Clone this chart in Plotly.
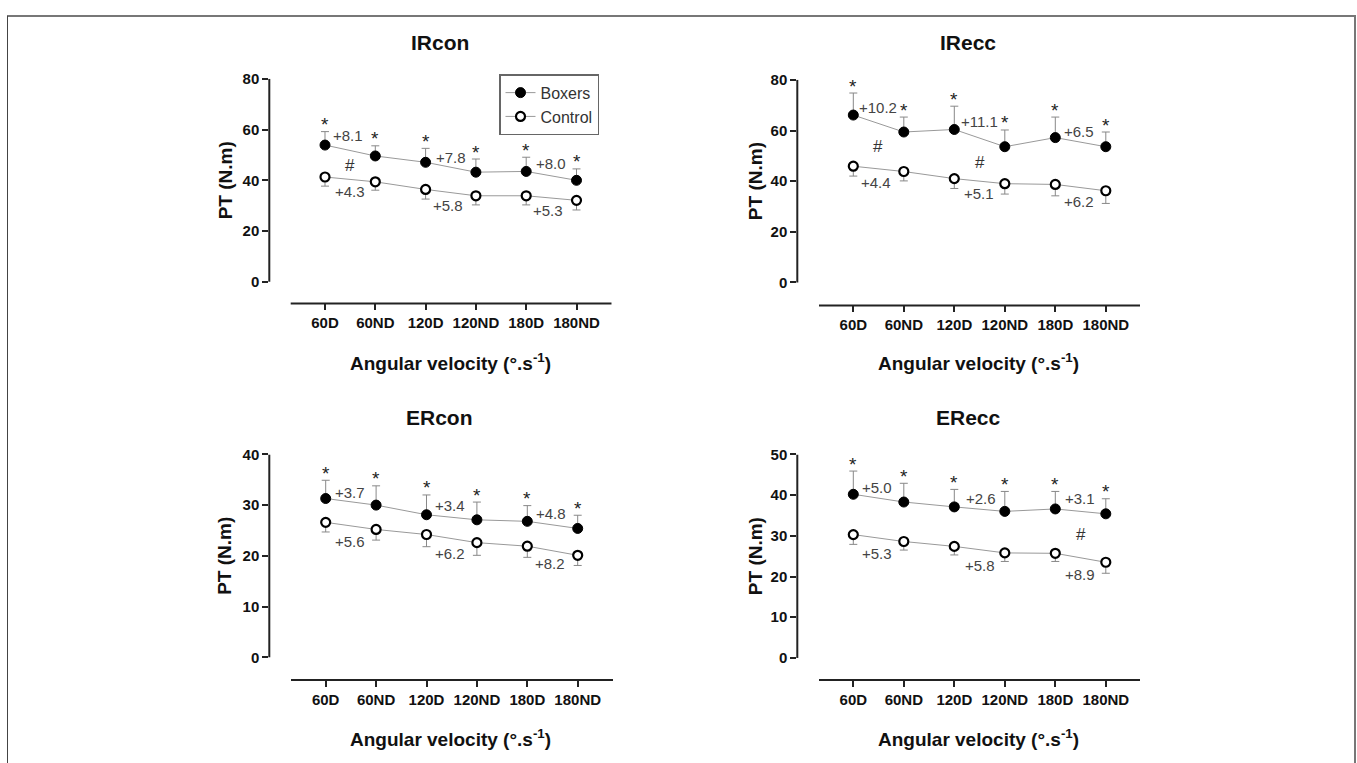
import plotly.graph_objects as go

W, H = 1357, 763

categories = ["60D", "60ND", "120D", "120ND", "180D", "180ND"]

# ---- data (PT, N.m) ----
ircon_boxers = [53.9, 49.6, 47.1, 43.2, 43.5, 40.0]
ircon_boxers_sd = [5.3, 4.0, 5.5, 5.2, 5.6, 4.5]
ircon_control = [41.3, 39.4, 36.4, 33.9, 33.9, 32.1]
ircon_control_sd = [3.6, 3.3, 3.8, 3.6, 3.6, 3.8]

irecc_boxers = [66.1, 59.4, 60.4, 53.6, 57.2, 53.6]
irecc_boxers_sd = [8.7, 5.9, 9.2, 6.6, 8.1, 5.8]
irecc_control = [45.9, 43.8, 41.0, 39.0, 38.7, 36.2]
irecc_control_sd = [3.9, 3.7, 3.9, 4.1, 4.5, 5.0]

ercon_boxers = [31.3, 30.0, 28.1, 27.1, 26.8, 25.4]
ercon_boxers_sd = [3.6, 3.8, 3.9, 3.5, 3.1, 2.6]
ercon_control = [26.6, 25.2, 24.2, 22.6, 21.9, 20.1]
ercon_control_sd = [1.9, 2.1, 2.4, 2.5, 2.2, 2.0]

erecc_boxers = [40.2, 38.3, 37.1, 36.0, 36.6, 35.4]
erecc_boxers_sd = [5.7, 4.6, 4.3, 4.9, 4.3, 3.7]
erecc_control = [30.3, 28.6, 27.4, 25.8, 25.7, 23.5]
erecc_control_sd = [2.4, 2.1, 2.1, 2.1, 2.0, 2.7]

# difference labels: (x position in category units, y value, text)
ircon_labels = [(0.46, 57.5, "+8.1"), (2.5, 49.1, "+7.8"), (4.5, 46.5, "+8.0"),
                (0.5, 45.8, "#"), (0.5, 35.5, "+4.3"), (2.45, 30.0, "+5.8"), (4.44, 27.9, "+5.3")]
irecc_labels = [(0.48, 68.9, "+10.2"), (2.5, 63.5, "+11.1"), (4.46, 59.6, "+6.5"),
                (0.48, 53.6, "#"), (2.51, 47.5, "#"),
                (0.45, 39.3, "+4.4"), (2.48, 35.1, "+5.1"), (4.46, 32.1, "+6.2")]
ercon_labels = [(0.48, 32.5, "+3.7"), (2.47, 29.9, "+3.4"), (4.48, 28.4, "+4.8"),
                (0.48, 22.8, "+5.6"), (2.47, 20.5, "+6.2"), (4.45, 18.4, "+8.2")]
erecc_labels = [(0.46, 41.9, "+5.0"), (2.52, 39.2, "+2.6"), (4.48, 39.1, "+3.1"),
                (4.5, 30.3, "#"),
                (0.46, 25.7, "+5.3"), (2.5, 22.8, "+5.8"), (4.49, 20.6, "+8.9")]

panels = [
    dict(title="IRcon", b=ircon_boxers, bsd=ircon_boxers_sd, c=ircon_control, csd=ircon_control_sd,
         labels=ircon_labels, ymax=80, dtick=20,
         x0=269.3, x1=611.7, ytop=70.7, ybot=298, yzero=276, cat0=325, step=50.3, xl0=290.7,
         tx=440, ty=34, xtx=450, xty=357, ytx=225),
    dict(title="IRecc", b=irecc_boxers, bsd=irecc_boxers_sd, c=irecc_control, csd=irecc_control_sd,
         labels=irecc_labels, ymax=80, dtick=20,
         x0=797.3, x1=1140, ytop=71.7, ybot=300, yzero=276.7, cat0=853.3, step=50.5, xl0=819,
         tx=968, ty=34, xtx=978, xty=357, ytx=755),
    dict(title="ERcon", b=ercon_boxers, bsd=ercon_boxers_sd, c=ercon_control, csd=ercon_control_sd,
         labels=ercon_labels, ymax=40, dtick=10,
         x0=269.3, x1=613, ytop=450.7, ybot=679, yzero=656, cat0=325.7, step=50.4, xl0=291,
         tx=440, ty=413, xtx=450, xty=738, ytx=225),
    dict(title="ERecc", b=erecc_boxers, bsd=erecc_boxers_sd, c=erecc_control, csd=erecc_control_sd,
         labels=erecc_labels, ymax=50, dtick=10,
         x0=797.3, x1=1140, ytop=450.7, ybot=679, yzero=656.7, cat0=853.3, step=50.5, xl0=819,
         tx=968, ty=413, xtx=978, xty=738, ytx=755),
]

FONT = "Arial, Liberation Sans, sans-serif"
AX = "#222222"

fig = go.Figure()
layout = dict(width=W, height=H, margin=dict(l=0, r=0, t=0, b=0),
              paper_bgcolor="white", plot_bgcolor="white",
              font=dict(family=FONT, color="#222"), showlegend=True)
shapes = []
annotations = []

for i, p in enumerate(panels, start=1):
    xa = "x" if i == 1 else f"x{i}"
    ya = "y" if i == 1 else f"y{i}"
    xkey = "xaxis" if i == 1 else f"xaxis{i}"
    ykey = "yaxis" if i == 1 else f"yaxis{i}"
    ppu = (p["yzero"] - p["ytop"]) / p["ymax"]
    ymin = -(p["ybot"] - p["yzero"]) / ppu
    xr0 = (p["x0"] - p["cat0"]) / p["step"]
    xr1 = (p["x1"] - p["cat0"]) / p["step"]

    layout[xkey] = dict(domain=[p["x0"] / W, p["x1"] / W], range=[xr0, xr1], anchor=ya,
                        type="category", categoryorder="array", categoryarray=categories,
                        showline=False, showgrid=False, zeroline=False,
                        ticks="outside", ticklen=6, tickwidth=1.5, tickcolor=AX,
                        tickfont=dict(family=FONT, size=15, color="#111", weight="bold"),
                        fixedrange=True)
    layout[ykey] = dict(domain=[1 - p["ybot"] / H, 1 - p["ytop"] / H], range=[ymin, p["ymax"]],
                        anchor=xa, showline=False, showgrid=False, zeroline=False,
                        tickmode="linear", tick0=0, dtick=p["dtick"],
                        ticks="outside", ticklen=6, tickwidth=1.5, tickcolor=AX,
                        tickfont=dict(family=FONT, size=15, color="#111", weight="bold"),
                        fixedrange=True)

    # axis lines (y axis from 0 to max; x axis offset below)
    shapes.append(dict(type="line", xref=f"{xa} domain", x0=0, x1=0, yref=ya, y0=0, y1=p["ymax"],
                       line=dict(color=AX, width=2)))
    shapes.append(dict(type="line", xref=xa, x0=(p["xl0"] - p["cat0"]) / p["step"], x1=xr1,
                       yref=f"{ya} domain", y0=0, y1=0, line=dict(color=AX, width=2)))

    fig.add_trace(go.Scatter(
        x=categories, y=p["b"], xaxis=xa, yaxis=ya, name="Boxers", showlegend=(i == 1),
        mode="lines+markers", cliponaxis=False,
        line=dict(color="#999999", width=1),
        marker=dict(color="black", size=10, line=dict(color="black", width=1)),
        error_y=dict(type="data", symmetric=False, array=p["bsd"], arrayminus=[0] * 6,
                     color="#888", thickness=1, width=4)))
    fig.add_trace(go.Scatter(
        x=categories, y=p["c"], xaxis=xa, yaxis=ya, name="Control", showlegend=(i == 1),
        mode="lines+markers", cliponaxis=False,
        line=dict(color="#999999", width=1),
        marker=dict(color="white", size=9, line=dict(color="black", width=2.2)),
        error_y=dict(type="data", symmetric=False, array=[0] * 6, arrayminus=p["csd"],
                     color="#888", thickness=1, width=4)))

    # significance stars above the boxers' error bars
    for k, cat in enumerate(categories):
        annotations.append(dict(x=k, y=p["b"][k] + p["bsd"][k], xref=xa, yref=ya, text="*",
                                showarrow=False, yanchor="middle", yshift=7,
                                font=dict(family=FONT, size=19, color="#222")))
    # difference labels and hashes
    for (lx, ly, t) in p["labels"]:
        if t == "#":
            f = dict(family=FONT, size=17, color="#333")
        else:
            f = dict(family=FONT, size=15, color="#444")
        annotations.append(dict(x=lx, y=ly, xref=xa, yref=ya, text=t, showarrow=False,
                                xanchor="center", yanchor="middle", font=f))

    annotations.append(dict(x=p["tx"] / W, y=1 - p["ty"] / H, xref="paper", yref="paper",
                            text=p["title"], showarrow=False, xanchor="center", yanchor="middle",
                            font=dict(family=FONT, size=21, color="#111", weight="bold")))
    annotations.append(dict(x=p["xtx"] / W, y=1 - p["xty"] / H, xref="paper", yref="paper",
                            text="Angular velocity (°.s<sup>-1</sup>)", showarrow=False,
                            xanchor="center", yanchor="middle",
                            font=dict(family=FONT, size=19, color="#111", weight="bold")))
    annotations.append(dict(x=p["ytx"] / W, y=1 - (p["ytop"] + p["yzero"]) / 2 / H,
                            xref="paper", yref="paper", text="PT (N.m)", textangle=-90,
                            showarrow=False, xanchor="center", yanchor="middle",
                            font=dict(family=FONT, size=19, color="#111", weight="bold")))

# outer frame
shapes.append(dict(type="line", xref="paper", yref="paper", x0=7 / W, x1=1356 / W,
                   y0=1 - 7 / H, y1=1 - 7 / H, line=dict(color="#777", width=2)))
shapes.append(dict(type="line", xref="paper", yref="paper", x0=7.5 / W, x1=7.5 / W,
                   y0=0, y1=1 - 7 / H, line=dict(color="#444", width=1)))
shapes.append(dict(type="line", xref="paper", yref="paper", x0=1355 / W, x1=1355 / W,
                   y0=0, y1=1 - 7 / H, line=dict(color="#777", width=2)))

layout["shapes"] = shapes
layout["annotations"] = annotations
layout["legend"] = dict(x=499 / W, y=1 - 66 / H, xanchor="left", yanchor="top",
                        bordercolor="#666", borderwidth=1.5, bgcolor="white",
                        font=dict(family=FONT, size=16, color="#333"),
                        itemwidth=30, tracegroupgap=0)
fig.update_layout(**layout)
fig.write_html("out.html", config={"displayModeBar": False},
               post_script="document.body.style.margin='0px';document.documentElement.style.overflow='hidden';")
